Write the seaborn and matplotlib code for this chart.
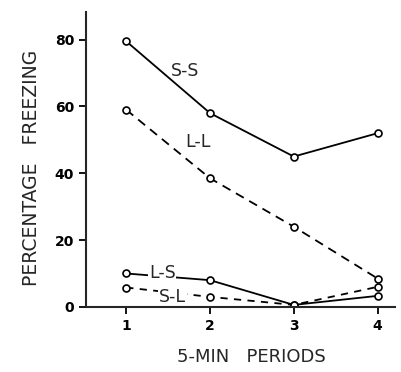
import matplotlib
matplotlib.use("Agg")
import matplotlib.pyplot as plt
import seaborn as sns
import pandas as pd

periods = [1, 2, 3, 4]
ss = [79.5, 58.0, 45.0, 52.0]
ll = [59.0, 38.5, 24.0, 8.5]
ls = [10.0, 8.0, 0.6, 3.3]
sl = [5.8, 3.0, 0.6, 6.0]
xticklabels = ["1", "2", "3", "4"]
yticks = [0, 20, 40, 60, 80]

df = pd.DataFrame({
    "period": periods * 4,
    "pct": ss + ll + ls + sl,
    "group": ["S-S"] * 4 + ["L-L"] * 4 + ["L-S"] * 4 + ["S-L"] * 4,
})

sns.set_style("ticks")
plt.rcParams["font.family"] = ["DejaVu Sans"]

fig = plt.figure(figsize=(4.02, 3.72), dpi=100)
ax = fig.add_axes([0.214, 0.175, 0.769, 0.793])

styles = {"S-S": "-", "L-L": (0, (5, 3.5)), "L-S": "-", "S-L": (0, (4, 3.5))}
for g, ls_ in styles.items():
    sns.lineplot(data=df[df.group == g], x="period", y="pct", ax=ax,
                 color="black", linewidth=1.3, linestyle=ls_, marker="o",
                 markersize=5, markerfacecolor="white", markeredgecolor="black",
                 markeredgewidth=1.2, zorder=3)

bbox = dict(facecolor="white", edgecolor="none", pad=0.5)
ax.text(1.70, 70.5, "S-S", fontsize=12.5, ha="center", va="center")
ax.text(1.86, 49.5, "L-L", fontsize=12.5, ha="center", va="center")
ax.text(1.43, 10.2, "L-S", fontsize=12.5, ha="center", va="center", bbox=bbox, zorder=4)
ax.text(1.55, 2.9, "S-L", fontsize=12.5, ha="center", va="center", bbox=bbox, zorder=4)

ax.set_xlim(0.52, 4.21)
ax.set_ylim(0, 88.3)
ax.set_xticks(periods)
ax.set_xticklabels(xticklabels)
ax.set_yticks(yticks)
ax.tick_params(axis="both", labelsize=10, length=5, width=1.3, direction="out", colors="black")
for lab in ax.get_xticklabels() + ax.get_yticklabels():
    lab.set_fontweight("bold")
ax.spines["top"].set_visible(False)
ax.spines["right"].set_visible(False)
for s in ("left", "bottom"):
    ax.spines[s].set_linewidth(1.5)
    ax.spines[s].set_zorder(6)
ax.set_xlabel("5-MIN   PERIODS", fontsize=13, labelpad=11)
ax.set_ylabel("PERCENTAGE   FREEZING", fontsize=13.5, labelpad=10)
ax.xaxis.label.set_x(0.535)
ax.yaxis.label.set_y(0.47)

fig.savefig("out.png", dpi=100)
